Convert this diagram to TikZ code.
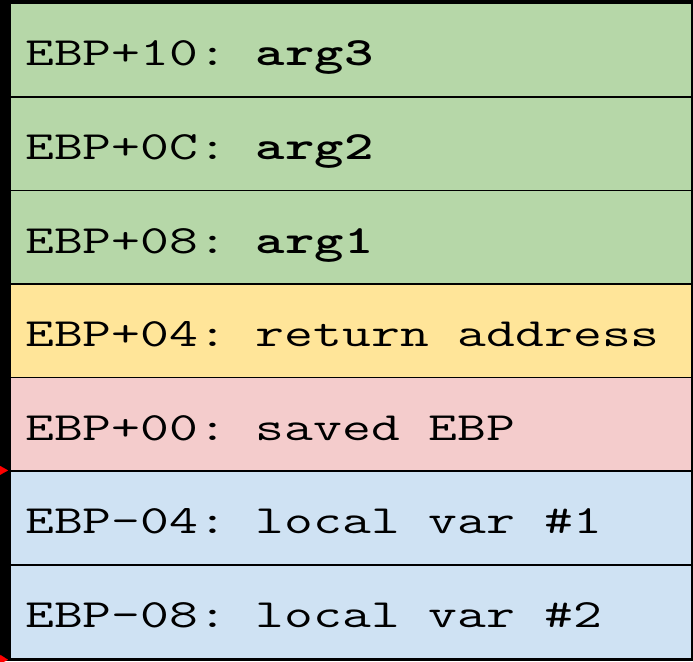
\documentclass[tikz,border=0pt]{standalone}
\usepackage{graphicx}
\usetikzlibrary{arrows.meta}
\definecolor{cgreen}{HTML}{B6D7A8}
\definecolor{cyellow}{HTML}{FFE599}
\definecolor{cpink}{HTML}{F4CCCC}
\definecolor{cblue}{HTML}{CFE2F3}
\newcommand{\stxt}[1]{\scalebox{1.40}[1]{#1}}
\begin{document}
\frenchspacing
\begin{tikzpicture}[x=1pt,y=-1pt,
  cell/.style={draw=black, line width=1.6pt, minimum width=682pt, minimum height=93.6pt, inner sep=0pt, anchor=north west},
  lbl/.style={anchor=base west, inner sep=0pt, font=\ttfamily\frenchspacing\fontsize{40}{44}\selectfont},
  redtip/.style={draw=red, line width=0.1pt, -{Triangle[length=8pt,width=9pt]}, red}]
\useasboundingbox (0,0) rectangle (693,661);
\node[cell, fill=cgreen]  (r1) at (9,2.4) {};
\node[cell, fill=cgreen]  (r2) at (9,96) {};
\node[cell, fill=cgreen]  (r3) at (9,189.6) {};
\node[cell, fill=cyellow] (r4) at (9,283.2) {};
\node[cell, fill=cpink]   (r5) at (9,376.8) {};
\node[cell, fill=cblue]   (r6) at (9,470.4) {};
\node[cell, fill=cblue]   (r7) at (9,564) {};
\draw[black, line width=3pt] (0,1.5) -- (693,1.5);
\draw[black, line width=3pt] (0,659.5) -- (693,659.5);
\fill[black] (0,0) rectangle (9,661);
\node[lbl] (t1) at ([xshift=16pt,yshift=-63.5pt]r1.north west) {\stxt{EBP+10: \textbf{arg3}}};
\node[lbl] (t2) at ([xshift=16pt,yshift=-63.5pt]r2.north west) {\stxt{EBP+0C: \textbf{arg2}}};
\node[lbl] (t3) at ([xshift=16pt,yshift=-63.5pt]r3.north west) {\stxt{EBP+08: \textbf{arg1}}};
\node[lbl] (t4) at ([xshift=16pt,yshift=-63.5pt]r4.north west) {\stxt{EBP+04: return address}};
\node[lbl] (t5) at ([xshift=16pt,yshift=-63.5pt]r5.north west) {\stxt{EBP+00: saved EBP}};
\node[lbl] (t6) at ([xshift=16pt,yshift=-63.5pt]r6.north west) {\stxt{EBP-04: local var \#1}};
\node[lbl] (t7) at ([xshift=16pt,yshift=-63.5pt]r7.north west) {\stxt{EBP-08: local var \#2}};
\coordinate (a1) at (-30,470.4);
\coordinate (a2) at (-30,657.6);
\draw[redtip] (a1) -- ([xshift=-1pt]r6.north west);
\draw[redtip] (a2) -- ([xshift=-1pt,yshift=-0.6pt]r7.south west);
\end{tikzpicture}
\end{document}
